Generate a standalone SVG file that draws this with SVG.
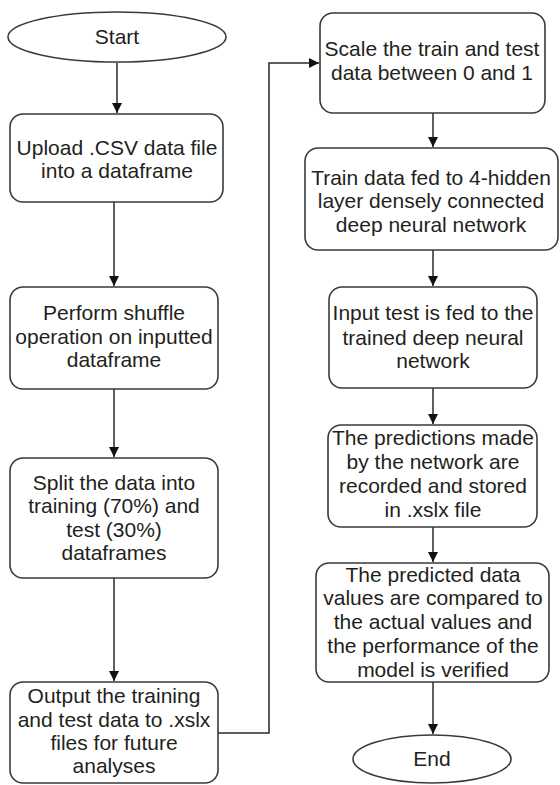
<svg xmlns="http://www.w3.org/2000/svg" width="560" height="785" viewBox="0 0 560 785">
  <style>
    .shape { fill: #ffffff; stroke: #3a3a3a; stroke-width: 1.6; }
    .edge { fill: none; stroke: #2a2a2a; stroke-width: 1.5; }
    .label { font-family: "Liberation Sans", Arial, sans-serif; font-size: 21px; fill: #231f20; text-anchor: middle; }
  </style>
  <defs>
    <marker id="arrow" viewBox="0 0 10 10" refX="10" refY="5" markerWidth="7" markerHeight="7" markerUnits="strokeWidth" orient="auto">
      <path d="M0,0 L10,5 L0,10 Z" fill="#111"/>
    </marker>
  </defs>

  <rect width="560" height="785" fill="#ffffff"/>

  <!-- connectors -->
  <g id="connectors">
    <path class="edge" d="M117,63 V113" marker-end="url(#arrow)"/>
    <path class="edge" d="M114,202 V286" marker-end="url(#arrow)"/>
    <path class="edge" d="M114,389 V457" marker-end="url(#arrow)"/>
    <path class="edge" d="M114,578 V681" marker-end="url(#arrow)"/>
    <path class="edge" d="M218,733 H269 V63 H319" marker-end="url(#arrow)"/>
    <path class="edge" d="M433,113 V147" marker-end="url(#arrow)"/>
    <path class="edge" d="M433,250 V286" marker-end="url(#arrow)"/>
    <path class="edge" d="M433,388 V424" marker-end="url(#arrow)"/>
    <path class="edge" d="M433,527 V562" marker-end="url(#arrow)"/>
    <path class="edge" d="M433,682 V734" marker-end="url(#arrow)"/>
  </g>

  <g id="start">
    <ellipse class="shape" cx="117" cy="37" rx="109" ry="25"/>
    <text class="label" x="117" y="44">Start</text>
  </g>

  <g id="upload">
    <rect class="shape" x="10" y="114" width="213" height="88" rx="13"/>
    <text class="label" x="117" y="155">Upload .CSV data file</text>
    <text class="label" x="117" y="178">into a dataframe</text>
  </g>

  <g id="shuffle">
    <rect class="shape" x="10" y="287" width="208" height="102" rx="13"/>
    <text class="label" x="114" y="320">Perform shuffle</text>
    <text class="label" x="114" y="344">operation on inputted</text>
    <text class="label" x="114" y="367">dataframe</text>
  </g>

  <g id="split">
    <rect class="shape" x="10" y="458" width="208" height="120" rx="13"/>
    <text class="label" x="114" y="490">Split the data into</text>
    <text class="label" x="114" y="513">training (70%) and</text>
    <text class="label" x="114" y="537">test (30%)</text>
    <text class="label" x="114" y="560">dataframes</text>
  </g>

  <g id="output">
    <rect class="shape" x="10" y="682" width="208" height="101" rx="13"/>
    <text class="label" x="114" y="703">Output the training</text>
    <text class="label" x="114" y="727">and test data to .xslx</text>
    <text class="label" x="114" y="750">files for future</text>
    <text class="label" x="114" y="773">analyses</text>
  </g>

  <g id="scale">
    <rect class="shape" x="320" y="13" width="225" height="100" rx="13"/>
    <text class="label" x="432" y="56">Scale the train and test</text>
    <text class="label" x="432" y="80">data between 0 and 1</text>
  </g>

  <g id="train">
    <rect class="shape" x="305" y="148" width="253" height="102" rx="13"/>
    <text class="label" x="431" y="185">Train data fed to 4-hidden</text>
    <text class="label" x="431" y="208">layer densely connected</text>
    <text class="label" x="431" y="232">deep neural network</text>
  </g>

  <g id="test-input">
    <rect class="shape" x="329" y="287" width="208" height="101" rx="13"/>
    <text class="label" x="433" y="320">Input test is fed to the</text>
    <text class="label" x="433" y="345">trained deep neural</text>
    <text class="label" x="433" y="368">network</text>
  </g>

  <g id="predictions">
    <rect class="shape" x="328" y="425" width="209" height="102" rx="13"/>
    <text class="label" x="433" y="445">The predictions made</text>
    <text class="label" x="433" y="469">by the network are</text>
    <text class="label" x="433" y="493">recorded and stored</text>
    <text class="label" x="433" y="517">in .xslx file</text>
  </g>

  <g id="compare">
    <rect class="shape" x="316" y="563" width="233" height="119" rx="13"/>
    <text class="label" x="433" y="582">The predicted data</text>
    <text class="label" x="433" y="605">values are compared to</text>
    <text class="label" x="433" y="629">the actual values and</text>
    <text class="label" x="433" y="653">the performance of the</text>
    <text class="label" x="433" y="677">model is verified</text>
  </g>

  <g id="end">
    <ellipse class="shape" cx="432" cy="759" rx="79" ry="24"/>
    <text class="label" x="432" y="766">End</text>
  </g>
</svg>
